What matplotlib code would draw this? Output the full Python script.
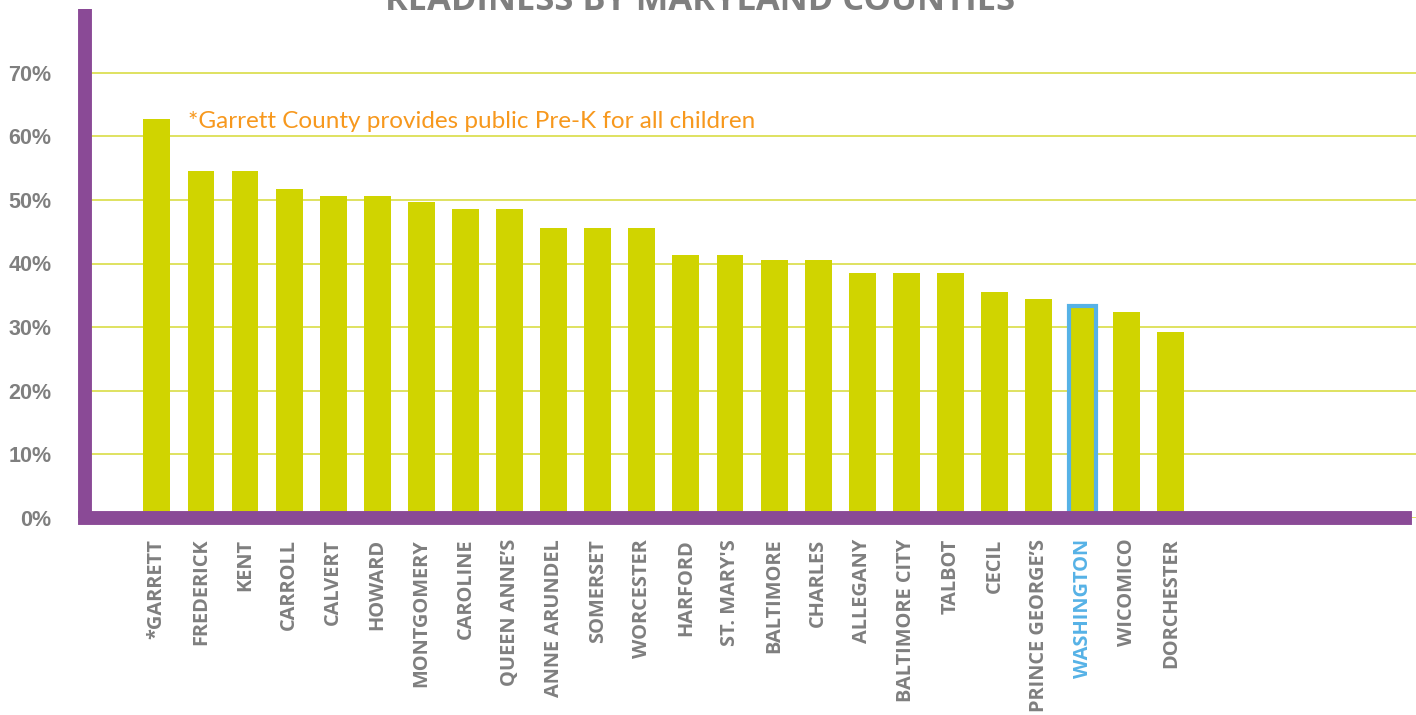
import matplotlib
matplotlib.use("Agg")
import matplotlib.pyplot as plt
import numpy as np
from matplotlib.ticker import PercentFormatter

# data
counties = ["*GARRETT", "FREDERICK", "KENT", "CARROLL", "CALVERT", "HOWARD",
            "MONTGOMERY", "CAROLINE", "QUEEN ANNE\u2019S", "ANNE ARUNDEL",
            "SOMERSET", "WORCESTER", "HARFORD", "ST. MARY'S", "BALTIMORE",
            "CHARLES", "ALLEGANY", "BALTIMORE CITY", "TALBOT", "CECIL",
            "PRINCE GEORGE\u2019S", "WASHINGTON", "WICOMICO", "DORCHESTER"]
readiness = [62.7, 54.6, 54.6, 51.7, 50.6, 50.6, 49.7, 48.6, 48.6, 45.6,
             45.6, 45.6, 41.4, 41.4, 40.5, 40.5, 38.5, 38.5, 38.5, 35.5,
             34.4, 33.3, 32.3, 29.3]
highlight = "WASHINGTON"
yticks = [0, 10, 20, 30, 40, 50, 60, 70]

title = "READINESS BY MARYLAND COUNTIES"
note = "*Garrett County provides public Pre-K for all children"

# colours
BAR = "#d0d400"
GRID = "#d9dd45"
PURPLE = "#8a4a96"
GRAY = "#7f7f7f"
BLUE = "#56b2e6"
ORANGE = "#f7981d"

fig = plt.figure(figsize=(14.16, 7.15), dpi=100)
ax = fig.add_axes([85 / 1416, 1 - 518 / 715, 1 - 85 / 1416, (518 - 9) / 715])

x = np.arange(len(counties))
bars = ax.bar(x, readiness, width=0.61, color=BAR, zorder=2)
i = counties.index(highlight)
bars[i].set_edgecolor(BLUE)
bars[i].set_linewidth(3)

ax.set_xlim(-1.63, 28.56)
ax.set_ylim(0, 80)
ax.set_yticks(yticks)
ax.yaxis.set_major_formatter(PercentFormatter(100, decimals=0))
ax.grid(axis="y", color=GRID, lw=1.2, zorder=1)
ax.set_axisbelow(True)

for s in ["top", "right"]:
    ax.spines[s].set_visible(False)
for s in ["left", "bottom"]:
    ax.spines[s].set_color(PURPLE)
    ax.spines[s].set_linewidth(10)
    ax.spines[s].set_zorder(3)
ax.spines["left"].set_capstyle("butt")
# x axis stops a little short of the right edge
ax.spines["bottom"].set_bounds(-1.63, 28.3)

ax.tick_params(axis="both", length=0)
ax.tick_params(axis="y", pad=24)
ax.tick_params(axis="x", pad=15)

ax.set_xticks(x)
ax.set_xticklabels(counties, rotation=90, va="top", ha="center",
                   fontsize=14.4, fontweight="bold", color=GRAY,
                   family=["Open Sans", "DejaVu Sans"])
ax.get_xticklabels()[i].set_color(BLUE)
for lab in ax.get_yticklabels():
    lab.set_family(["Liberation Sans", "DejaVu Sans"])
    lab.set_fontsize(15.5)
    lab.set_fontweight("bold")
    lab.set_color(GRAY)

ax.text(0.7, 62.3, note, color=ORANGE, fontsize=17.5, va="center", ha="left",
        family=["Lato", "DejaVu Sans"])

fig.text(700 / 1416, 1 - 10 / 715, title, ha="center", va="baseline",
         fontsize=24.8, fontweight="bold", color=GRAY,
         family=["Open Sans", "DejaVu Sans"])

fig.savefig("out.png", dpi=100)
